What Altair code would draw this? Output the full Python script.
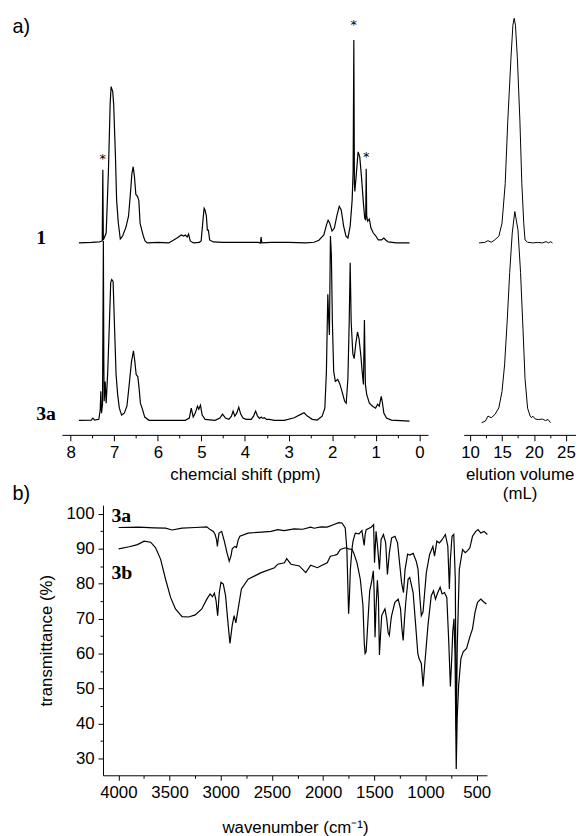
import altair as alt
import pandas as pd

# ---------------- 1H NMR (ppm, relative intensity) ----------------
nmr1_ppm = [7.81, 7.52, 7.34, 7.275, 7.262, 7.25, 7.185, 7.133, 7.094, 7.072, 7.035, 7.013, 6.974, 6.945,
            6.906, 6.861, 6.808, 6.731, 6.672, 6.634, 6.595, 6.565, 6.536, 6.504, 6.468, 6.436, 6.407,
            6.368, 6.332, 6.293, 6.241, 6.0, 5.75, 5.673, 5.56, 5.46, 5.408, 5.369, 5.324, 5.294, 5.256,
            5.181, 5.05, 5.006, 4.97, 4.938, 4.915, 4.886, 4.863, 4.84, 4.811, 4.727, 4.5, 3.7, 3.645,
            3.63, 3.615, 3.4, 3.0, 2.6, 2.418, 2.305, 2.191, 2.132, 2.093, 2.055, 2.003, 1.95, 1.889,
            1.837, 1.791, 1.737, 1.685, 1.639, 1.587, 1.542, 1.519, 1.503, 1.49, 1.48, 1.451, 1.405,
            1.367, 1.328, 1.283, 1.253, 1.231, 1.219, 1.208, 1.185, 1.147, 1.11, 1.056, 0.997, 0.942,
            0.867, 0.815, 0.77, 0.715, 0.527, 0.225]
nmr1_int = [0, 0.5, 1, 2, 74, 3, 10, 73, 140, 158, 153, 140, 90, 43,
            20, 4, 7, 16, 27, 47, 70, 77, 67, 49, 47, 43, 20,
            13, 7, 2, 0, 0.5, 0, 2, 5, 8, 7, 8, 6, 9, 2,
            0, 0.5, 2, 20, 35, 33, 27, 13, 13, 3, 1, 0.5, 0.5, 0,
            6, 0, 0.5, 0.5, 0, 0.7, 2.7, 8, 18, 23, 20, 12, 15, 28,
            37, 33, 17, 7, 5, 17, 43, 73, 205, 60, 52, 67, 92,
            87, 67, 40, 25, 23, 75, 27, 22, 24, 15, 10, 7, 3,
            3, 5, 3, 1, 0, 0]

nmr3a_ppm = [7.81, 7.526, 7.489, 7.451, 7.353, 7.321, 7.308, 7.292, 7.269, 7.249, 7.239, 7.231, 7.208,
             7.185, 7.149, 7.11, 7.081, 7.058, 7.026, 6.997, 6.958, 6.922, 6.883, 6.831, 6.77, 6.709,
             6.656, 6.604, 6.559, 6.527, 6.497, 6.459, 6.429, 6.4, 6.354, 6.3, 6.202, 5.8, 5.369,
             5.278, 5.233, 5.188, 5.142, 5.09, 5.06, 5.022, 4.983, 4.915, 4.688, 4.575, 4.516, 4.448,
             4.37, 4.311, 4.273, 4.234, 4.189, 4.143, 4.098, 4.046, 3.971, 3.857, 3.803, 3.757, 3.712,
             3.667, 3.63, 3.592, 3.553, 3.508, 3.44, 3.326, 3.099, 2.872, 2.722, 2.646, 2.57, 2.457,
             2.343, 2.23, 2.168, 2.132, 2.1, 2.077, 2.063, 2.04, 2.018, 1.995, 1.965, 1.927, 1.873,
             1.828, 1.775, 1.714, 1.678, 1.639, 1.609, 1.587, 1.564, 1.526, 1.496, 1.458, 1.419,
             1.383, 1.344, 1.306, 1.283, 1.26, 1.238, 1.208, 1.147, 1.072, 1.004, 0.958, 0.92, 0.874,
             0.845, 0.815, 0.754, 0.64, 0.225]
nmr3a_int = [0.7, 1, 3, 1, 1.7, 11.7, 30, 8, 16.7, 182, 60, 20, 40,
             18, 50, 100, 140, 143, 141, 100, 47, 27, 13, 6, 8, 15,
             37, 60, 71, 60, 47, 45, 33, 18, 12, 4, 0.7, 0.7, 0.7,
             3, 13, 4, 8, 15, 12, 16, 6, 1.7, 0.7, 3, 7, 3,
             1.7, 5, 10, 5, 8, 14, 7, 3, 1.7, 1.7, 5, 10, 5,
             2.7, 4, 2.7, 3.3, 1.7, 1.7, 0.7, 0.7, 3.3, 6.7, 8.3, 5, 1.7,
             1, 5, 13, 50, 128, 100, 87, 187, 167, 100, 50, 40, 42,
             38, 30, 20, 18, 43, 100, 160, 100, 68, 63, 78, 90,
             83, 67, 47, 37, 102, 37, 27, 18, 15, 13, 17, 15, 25,
             18, 8, 3, 1, 0]

nmr_offsets = [194, 14]

# ---------------- GPC (elution volume mL, relative intensity) ----------------
gpc1_vol = [11.4, 12.3, 12.8, 13.3, 13.8, 14.5, 15.0, 15.5, 15.9, 16.4, 16.7, 16.9, 17.1, 17.4,
            17.8, 18.1, 18.4, 18.6, 19.0, 19.8, 20.6, 21.3, 21.9, 22.3, 22.6, 22.9]
gpc1_int = [0, 0.5, 2.3, 0.7, 2.7, 6.7, 20, 60, 123, 187, 220, 227, 220, 187,
            123, 60, 20, 3, 0.7, 0, 0.5, 0, 1.3, 0, 1.2, 0]
gpc3a_vol = [11.8, 12.4, 12.8, 13.3, 13.9, 14.5, 15.0, 15.4, 15.8, 16.2, 16.6, 17.0, 17.5, 17.9,
             18.3, 18.6, 19.0, 19.4, 19.6, 19.8, 20.2, 20.7, 21.3, 21.8, 22.2, 22.6]
gpc3a_int = [-1.7, 0, 5, 3.3, 6.7, 13.3, 30, 56.7, 100, 150, 190, 211.7, 193, 150,
             90, 43, 13, 5, 3.3, 5, 2, 1.5, 2, 0.5, 1.5, -1.7]

# ---------------- FT-IR (wavenumber cm-1, transmittance %) ----------------
ir3a_wn = [3997, 3800, 3650, 3539, 3475, 3378, 3250, 3136, 3104, 3072, 3055, 3040, 3033, 3024, 3017,
           2991, 2965, 2940, 2917, 2900, 2888, 2862, 2846, 2830, 2813, 2733, 2600, 2508, 2443, 2380,
           2282, 2200, 2122, 2088, 2020, 1961, 1900, 1848, 1816, 1784, 1768, 1751, 1742, 1734, 1718,
           1708, 1686, 1650, 1621, 1610, 1599, 1590, 1579, 1531, 1507, 1498, 1483, 1467, 1450, 1434,
           1411, 1389, 1372, 1353, 1331, 1299, 1273, 1250, 1234, 1215, 1200, 1175, 1154, 1121, 1089,
           1073, 1055, 1041, 1024, 992, 960, 928, 912, 889, 864, 838, 806, 782, 767, 757, 741, 724,
           709, 700, 690, 670, 638, 612, 589, 567, 541, 509, 487, 460, 428, 396]
ir3a_T = [96.1, 96.2, 96.0, 95.9, 95.4, 95.9, 96.1, 96.3, 95.5, 95.0, 94.1, 92.5, 90.7, 93.0, 94.5,
          95.0, 92.2, 89.0, 86.5, 88.0, 90.0, 90.7, 90.4, 92.5, 93.6, 94.5, 94.8, 95.0, 95.5, 95.2,
          95.7, 95.6, 96.2, 95.9, 96.3, 96.2, 96.9, 97.5, 97.4, 96.0, 89.8, 71.4, 77.0, 84.1, 90.0,
          92.2, 94.5, 94.3, 95.2, 93.0, 91.0, 94.0, 95.5, 96.2, 96.9, 86.0, 95.0, 90.3, 84.1, 92.6,
          94.1, 91.7, 82.7, 88.9, 93.1, 93.6, 91.7, 85.0, 80.4, 77.5, 84.0, 88.5, 88.2, 88.7, 86.3,
          84.1, 76.0, 70.9, 72.0, 83.2, 88.4, 90.7, 87.9, 92.2, 91.7, 92.6, 94.1, 90.7, 78.5, 87.0, 93.6, 94.1,
          81.3, 38.0, 62.0, 84.1, 89.8, 88.9, 89.5, 90.3, 93.6, 95.0, 95.5, 94.5, 95.0, 94.1]

ir3b_wn = [3997, 3894, 3813, 3749, 3684, 3636, 3587, 3539, 3490, 3442, 3378, 3313, 3249, 3185, 3136,
           3104, 3081, 3062, 3046, 3030, 3014, 2998, 2975, 2953, 2927, 2910, 2888, 2869, 2852, 2830,
           2798, 2733, 2605, 2475, 2443, 2378, 2356, 2314, 2233, 2186, 2169, 2122, 2056, 2025, 1960,
           1929, 1895, 1863, 1832, 1784, 1750, 1718, 1702, 1669, 1637, 1611, 1598, 1590, 1580, 1565,
           1545, 1524, 1510, 1502, 1493, 1485, 1470, 1460, 1450, 1440, 1428, 1410, 1396, 1379, 1365,
           1353, 1340, 1331, 1299, 1267, 1244, 1230, 1218, 1205, 1193, 1170, 1154, 1121, 1096, 1075,
           1063, 1041, 1030, 1024, 1008, 976, 944, 922, 903, 880, 857, 838, 815, 792, 773, 757, 745,
           734, 722, 712, 700, 690, 676, 654, 632, 599, 567, 541, 516, 492, 460, 428, 405]
ir3b_T = [90.0, 90.6, 91.2, 92.2, 91.9, 90.3, 87.0, 81.3, 76.1, 72.8, 70.6, 70.5, 71.1, 72.8, 75.6,
          77.1, 76.3, 77.3, 75.2, 70.9, 77.5, 80.4, 79.9, 76.6, 68.1, 62.9, 68.1, 70.9, 68.8, 72.8,
          78.5, 81.3, 83.2, 84.6, 85.6, 86.0, 87.2, 85.6, 85.1, 83.7, 83.2, 85.3, 84.6, 85.1, 86.0,
          87.9, 88.1, 88.4, 89.8, 90.3, 90.0, 89.8, 88.9, 86.0, 81.3, 73.8, 63.0, 60.0, 60.5, 68.0,
          78.0, 81.0, 83.7, 78.0, 64.7, 72.0, 81.0, 76.0, 59.6, 65.0, 70.9, 72.0, 72.8, 70.0, 66.0,
          65.2, 69.0, 70.9, 74.7, 75.6, 72.8, 67.0, 63.8, 70.0, 74.7, 81.3, 81.8, 77.5, 68.1, 60.0,
          58.6, 57.2, 53.0, 50.6, 56.7, 68.1, 76.6, 78.0, 75.6, 77.5, 79.0, 77.1, 77.5, 76.1, 63.4, 50.6, 58.0,
          66.2, 70.0, 60.0, 27.0, 42.0, 51.1, 58.6, 60.5, 61.5, 64.8, 67.1, 71.9, 74.7, 75.6, 74.7, 74.2]

# ---------------- annotations ----------------
panel_text = ["a)"]
panel_a_ppm = [9.335]
panel_a_y = [406]
trace_labels = ["1", "3a"]
trace_label_ppm = [8.79, 8.79]
trace_label_y = [193, 15]
star_ppm = [1.503, 1.219, 7.262]
star_y = [410, 277, 275]
ir_panel_text = ["b)"]
ir_panel_wn = [5034]
ir_panel_T = [103.9]
ir_labels = ["3a", "3b"]
ir_label_wn = [4068, 4068]
ir_label_T = [97.7, 81.3]
ir_major_T = [30, 40, 50, 60, 70, 80, 90, 100]
ir_minor_T = [35, 45, 55, 65, 75, 85, 95]


def trace_df(xs, ys, name, xname, yname, offset=0):
    return pd.DataFrame({xname: xs, yname: [v + offset for v in ys],
                         "series": name, "idx": list(range(len(xs)))})


nmr_df = pd.concat([trace_df(nmr1_ppm, nmr1_int, "1", "ppm", "y", nmr_offsets[0]),
                    trace_df(nmr3a_ppm, nmr3a_int, "3a", "ppm", "y", nmr_offsets[1])])
gpc_df = pd.concat([trace_df(gpc1_vol, gpc1_int, "1", "vol", "y", nmr_offsets[0]),
                    trace_df(gpc3a_vol, gpc3a_int, "3a", "vol", "y", nmr_offsets[1])])
ir_df = pd.concat([trace_df(ir3a_wn, ir3a_T, "3a", "wn", "T"),
                   trace_df(ir3b_wn, ir3b_T, "3b", "wn", "T")])

FONT = "Liberation Sans"
SERIF = "Liberation Serif"

COMMON = dict(grid=False, domainColor="black", tickColor="black", labelColor="black",
              titleColor="black", labelFont=FONT, titleFont=FONT, labelFontSize=17,
              titleFontSize=17, titleFontWeight="normal", labelPadding=4,
              labelFlush=False, labelOverlap=False, domainWidth=1, tickWidth=1)


def axis(values, major_test, major=6, minor=3, title_pad=6, orient=None):
    kw = dict(COMMON, values=values,
              labelExpr=f"({major_test}) ? format(datum.value, 'd') : ''",
              tickSize={"condition": {"test": major_test, "value": major}, "value": minor},
              titlePadding=title_pad)
    if orient:
        kw["orient"] = orient
    return alt.Axis(**kw)


TOP_H = 426
TOP_W = 477.5


def ppm_scale():
    return alt.Scale(domain=[8.2, -0.2], range=[-41.5, 328.5], nice=False, zero=False)


vol_scale = alt.Scale(domain=[9, 26.5], range=[364.5, 477.5], nice=False, zero=False)


def top_y():
    return alt.Scale(domain=[0, TOP_H], nice=False, zero=False)


nmr_lines = alt.Chart(nmr_df).mark_line(color="black", strokeWidth=1.2).encode(
    x=alt.X("ppm:Q", scale=ppm_scale(), title="chemcial shift (ppm)",
            axis=axis([8 - 0.5 * i for i in range(17)], "datum.value % 1 === 0", orient="bottom")),
    y=alt.Y("y:Q", scale=top_y(), axis=None),
    detail="series:N", order="idx:Q")

a_df = pd.DataFrame({"ppm": panel_a_ppm, "y": panel_a_y, "t": panel_text})
lab_df = pd.DataFrame({"ppm": trace_label_ppm, "y": trace_label_y, "t": trace_labels})
star_df = pd.DataFrame({"ppm": star_ppm, "y": star_y, "t": ["*"] * len(star_ppm)})


def text_layer(df, font, size, weight="normal", align="left"):
    return alt.Chart(df).mark_text(align=align, baseline="alphabetic", font=font, fontSize=size,
                                   fontWeight=weight, color="black").encode(
        x=alt.X("ppm:Q", scale=ppm_scale(), axis=None),
        y=alt.Y("y:Q", scale=top_y(), axis=None),
        text="t:N")


a_text = text_layer(a_df, FONT, 20)
lab_text = text_layer(lab_df, SERIF, 20, "bold")
star_text = text_layer(star_df, "DejaVu Sans", 13, "normal", "center")

gpc = alt.Chart(gpc_df).mark_line(color="black", strokeWidth=1).encode(
    x=alt.X("vol:Q", scale=vol_scale, title=["elution volume", "(mL)"],
            axis=axis([10, 12.5, 15, 17.5, 20, 22.5, 25], "datum.value % 5 === 0", orient="bottom")),
    y=alt.Y("y:Q", scale=top_y(), axis=None),
    detail="series:N", order="idx:Q")

top = alt.layer(nmr_lines, gpc, a_text, lab_text, star_text).resolve_scale(
    x="independent").properties(width=TOP_W, height=TOP_H)

ir_x = alt.Scale(domain=[4150, 400], nice=False, zero=False)
ir_yscale = alt.Scale(domain=[25.2, 102.5], nice=False, zero=False)
ir_xaxis = axis([500 + 250 * i for i in range(15)], "datum.value % 500 === 0", 5, 3, 20)
ir_lines = alt.Chart(ir_df).mark_line(color="black", strokeWidth=1.2).encode(
    x=alt.X("wn:Q", scale=ir_x, title="wavenumber (cm\u207b\u00b9)", axis=ir_xaxis),
    y=alt.Y("T:Q", scale=ir_yscale, title="transmittance (%)",
            axis=alt.Axis(values=ir_major_T, tickSize=5, titlePadding=11, orient="left", **COMMON)),
    detail="series:N", order="idx:Q")

# invisible layer that carries the minor ticks of the transmittance axis
ir_minor = alt.Chart(ir_df).mark_line(opacity=0).encode(
    x=alt.X("wn:Q", scale=ir_x, title="wavenumber (cm\u207b\u00b9)", axis=ir_xaxis),
    y=alt.Y("T:Q", scale=ir_yscale, title="",
            axis=alt.Axis(values=ir_minor_T, tickSize=3, labels=False, domain=False,
                          orient="left", grid=False, tickColor="black", tickWidth=1)),
    detail="series:N", order="idx:Q")

b_df = pd.DataFrame({"wn": ir_panel_wn, "T": ir_panel_T, "t": ir_panel_text})
irlab_df = pd.DataFrame({"wn": ir_label_wn, "T": ir_label_T, "t": ir_labels})
b_text = alt.Chart(b_df).mark_text(align="left", baseline="alphabetic", font=FONT, fontSize=20,
                                   color="black").encode(
    x=alt.X("wn:Q", scale=ir_x, title="wavenumber (cm\u207b\u00b9)", axis=ir_xaxis),
    y=alt.Y("T:Q", scale=ir_yscale, axis=None), text="t:N")
irlab_text = alt.Chart(irlab_df).mark_text(align="left", baseline="alphabetic", font=SERIF,
                                           fontSize=20, fontWeight="bold", color="black").encode(
    x=alt.X("wn:Q", scale=ir_x, title="wavenumber (cm\u207b\u00b9)", axis=ir_xaxis),
    y=alt.Y("T:Q", scale=ir_yscale, axis=None), text="t:N")

ir = alt.layer(ir_lines, ir_minor, b_text, irlab_text).resolve_axis(y="independent").properties(
    width=388, height=273)

chart = alt.vconcat(top, ir, spacing=71, bounds="flush").properties(
    padding={"left": 4, "top": 0, "right": 0, "bottom": 0}
).configure_view(stroke="transparent")

chart.save("out.html", embed_options={"renderer": "svg", "actions": False})
